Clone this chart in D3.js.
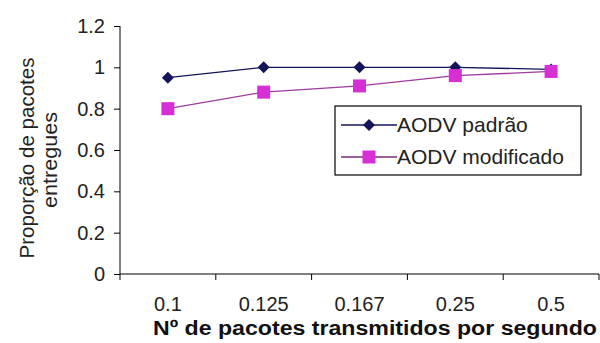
<!DOCTYPE html>
<html><head><meta charset="utf-8">
<script src="https://cdn.jsdelivr.net/npm/d3@7"></script>
<style>body{margin:0;background:#fff}svg{display:block}</style>
</head><body>
<svg id="c" width="600" height="343"></svg>
<script>
const categories = ["0.1", "0.125", "0.167", "0.25", "0.5"];
const padrao = [0.95, 1.0, 1.0, 1.0, 0.99];
const modificado = [0.80, 0.88, 0.91, 0.96, 0.98];
const yTicks = [0, 0.2, 0.4, 0.6, 0.8, 1, 1.2];
const seriesNames = ["AODV padrão", "AODV modificado"];

const svg = d3.select("#c");
const L = 120, R = 599, T = 26, B = 274;
const x = d3.scaleBand().domain(categories).range([L, R]);
const y = d3.scaleLinear().domain([0, 1.2]).range([B, T]);
const font = "Arial, 'Liberation Sans', sans-serif";

// y axis
const ya = svg.append("g").attr("transform", `translate(${L},0)`)
  .call(d3.axisLeft(y).tickValues(yTicks).tickSize(6).tickPadding(9)
    .tickFormat(d => d3.format("")(+d.toFixed(1))));
ya.selectAll("path").attr("stroke", "#000").attr("d", `M-0,${T}V${B}`);
ya.selectAll("line").attr("stroke", "#000");
ya.selectAll("text").attr("font-family", font).attr("font-size", 20).attr("fill", "#222");

// x axis
const xa = svg.append("g").attr("transform", `translate(0,${B})`)
  .call(d3.axisBottom(x).tickSize(0).tickPadding(23));
xa.select("path").attr("stroke", "#000").attr("d", `M${L},0H${R}`);
xa.selectAll("text").attr("font-family", font).attr("font-size", 20).attr("fill", "#222");
const bounds = categories.map(c => x(c)).concat([R]);
svg.append("g").selectAll("line").data(bounds).join("line")
  .attr("x1", d => d).attr("x2", d => d).attr("y1", B).attr("y2", B + 6)
  .attr("stroke", "#000");

// titles
svg.append("text").attr("transform", "translate(34,158) rotate(-90)")
  .attr("text-anchor", "middle").attr("font-family", font).attr("font-size", 21)
  .attr("textLength", 201).attr("lengthAdjust", "spacingAndGlyphs")
  .attr("fill", "#222").text("Proporção de pacotes");
svg.append("text").attr("transform", "translate(57,160) rotate(-90)")
  .attr("text-anchor", "middle").attr("font-family", font).attr("font-size", 21)
  .attr("textLength", 96).attr("lengthAdjust", "spacingAndGlyphs")
  .attr("fill", "#222").text("entregues");
svg.append("text").attr("x", 153).attr("y", 335).attr("font-family", font)
  .attr("font-size", 20).attr("font-weight", "bold").attr("fill", "#111")
  .attr("textLength", 444).attr("lengthAdjust", "spacingAndGlyphs")
  .text("Nº de pacotes transmitidos por segundo");

const cx = c => x(c) + x.bandwidth() / 2;
const line = d3.line().x((d, i) => cx(categories[i])).y(d => y(d));
const navy = "#14145a", mag = "#d62fd6";

svg.append("path").datum(padrao).attr("d", line).attr("fill", "none")
  .attr("stroke", navy).attr("stroke-width", 1.3);
svg.append("path").datum(modificado).attr("d", line).attr("fill", "none")
  .attr("stroke", "#a03aa0").attr("stroke-width", 1.3);

const diamond = (g, px, py) => g.append("path")
  .attr("d", `M${px},${py - 6}L${px + 6},${py}L${px},${py + 6}L${px - 6},${py}Z`)
  .attr("fill", navy);
const square = (g, px, py) => g.append("rect")
  .attr("x", px - 6.5).attr("y", py - 6.5).attr("width", 13).attr("height", 13)
  .attr("fill", mag);

const gp = svg.append("g");
padrao.forEach((v, i) => diamond(gp, cx(categories[i]), y(v)));
const gm = svg.append("g");
modificado.forEach((v, i) => square(gm, cx(categories[i]), y(v)));

// legend
const lg = svg.append("g");
lg.append("rect").attr("x", 335).attr("y", 106).attr("width", 246).attr("height", 69)
  .attr("fill", "#fff").attr("stroke", "#000").attr("stroke-width", 1.2);
const rows = [125, 157];
lg.append("line").attr("x1", 341).attr("x2", 397).attr("y1", rows[0]).attr("y2", rows[0]).attr("stroke", navy).attr("stroke-width", 1.3);
diamond(lg, 369, rows[0]);
lg.append("line").attr("x1", 341).attr("x2", 397).attr("y1", rows[1]).attr("y2", rows[1]).attr("stroke", "#7a2a7a").attr("stroke-width", 1.3);
square(lg, 369, rows[1]);
seriesNames.forEach((n, i) => lg.append("text").attr("x", 397).attr("y", rows[i] + 7)
  .attr("font-family", font).attr("font-size", 21).attr("fill", "#222").text(n));
</script>
</body></html>
